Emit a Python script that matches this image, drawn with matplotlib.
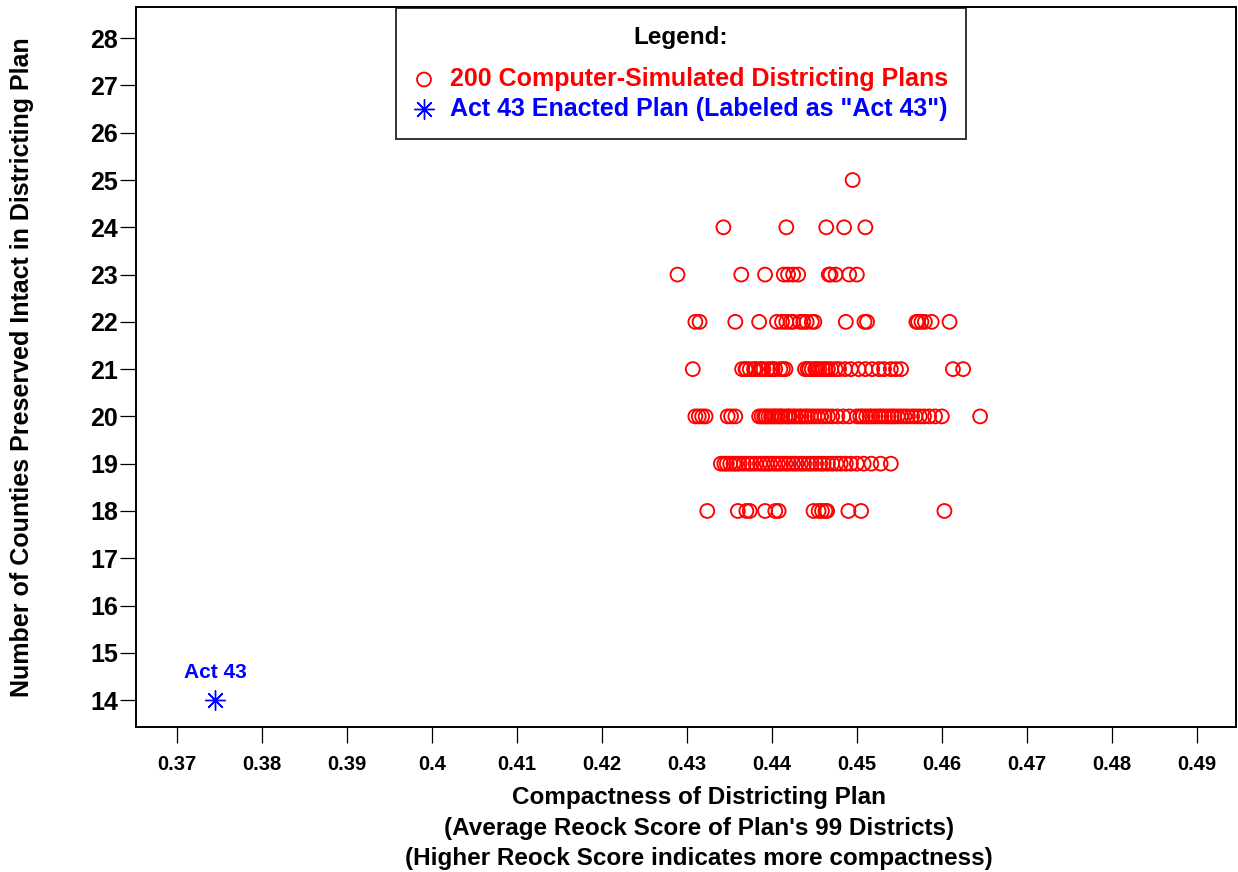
import matplotlib
matplotlib.use("Agg")
import matplotlib.pyplot as plt
import numpy as np

plt.rcParams["font.family"] = ["Liberation Sans", "DejaVu Sans"]
plt.rcParams["font.weight"] = "bold"

# Average Reock score of each simulated plan, grouped by number of counties kept intact
reock_18 = [0.4324, 0.4360, 0.4370, 0.4374, 0.4392, 0.4404, 0.4408, 0.4449,
            0.4455, 0.4459, 0.4463, 0.4465, 0.4490, 0.4505, 0.4603]
reock_19 = [0.4340, 0.4344, 0.4347, 0.4351, 0.4355, 0.4358, 0.4362, 0.4367,
            0.4372, 0.4376, 0.4381, 0.4386, 0.4390, 0.4394, 0.4398, 0.4403,
            0.4407, 0.4411, 0.4416, 0.4420, 0.4425, 0.4429, 0.4434, 0.4438,
            0.4443, 0.4447, 0.4452, 0.4457, 0.4461, 0.4466, 0.4471, 0.4476,
            0.4481, 0.4487, 0.4493, 0.4500, 0.4508, 0.4517, 0.4528, 0.4540]
reock_20 = [0.4310, 0.4314, 0.4318, 0.4322, 0.4348, 0.4352, 0.4357,
            0.4385, 0.4388, 0.4391, 0.4393, 0.4396, 0.4399, 0.4402, 0.4404,
            0.4407, 0.4410, 0.4412, 0.4416, 0.4419, 0.4421, 0.4425, 0.4428,
            0.4432, 0.4435, 0.4439, 0.4442, 0.4446, 0.4450, 0.4454, 0.4458,
            0.4462, 0.4466, 0.4471, 0.4477, 0.4484, 0.4491,
            0.4500, 0.4504, 0.4507, 0.4511, 0.4515, 0.4518, 0.4522, 0.4526,
            0.4529, 0.4533, 0.4537, 0.4541, 0.4544, 0.4548, 0.4552, 0.4556,
            0.4560, 0.4565, 0.4569, 0.4574, 0.4579, 0.4585, 0.4592, 0.4600,
            0.4645]
reock_21 = [0.4307,
            0.4365, 0.4369, 0.4370, 0.4374, 0.4379, 0.4381, 0.4386, 0.4388,
            0.4390, 0.4395, 0.4399, 0.4401, 0.4404, 0.4410, 0.4413, 0.4416,
            0.4439, 0.4442, 0.4444, 0.4447, 0.4451, 0.4453, 0.4456, 0.4460,
            0.4463, 0.4466, 0.4470, 0.4475, 0.4479, 0.4486, 0.4493, 0.4502,
            0.4510, 0.4518, 0.4526, 0.4532, 0.4540, 0.4546, 0.4552,
            0.4613, 0.4625]
reock_22 = [0.4310, 0.4315, 0.4357, 0.4385, 0.4406, 0.4412, 0.4417, 0.4422,
            0.4425, 0.4433, 0.4437, 0.4441, 0.4447, 0.4450, 0.4487, 0.4509,
            0.4512, 0.4570, 0.4572, 0.4576, 0.4580, 0.4588, 0.4609]
reock_23 = [0.4289, 0.4364, 0.4392, 0.4414, 0.4419, 0.4425, 0.4431, 0.4467,
            0.4469, 0.4475, 0.4491, 0.4500]
reock_24 = [0.4343, 0.4417, 0.4464, 0.4485, 0.4510]
reock_25 = [0.4495]

county_groups = [18, 19, 20, 21, 22, 23, 24, 25]
reock_groups = [reock_18, reock_19, reock_20, reock_21, reock_22,
                reock_23, reock_24, reock_25]

act43_reock = 0.3745
act43_counties = 14

xticks = [0.37, 0.38, 0.39, 0.40, 0.41, 0.42, 0.43, 0.44, 0.45, 0.46, 0.47, 0.48, 0.49]
xtick_labels = ["0.37", "0.38", "0.39", "0.4", "0.41", "0.42", "0.43",
                "0.44", "0.45", "0.46", "0.47", "0.48", "0.49"]
yticks = list(range(14, 29))

sim_x = np.concatenate([np.array(g) for g in reock_groups])
sim_y = np.concatenate([np.full(len(g), c) for g, c in zip(reock_groups, county_groups)])

fig = plt.figure(figsize=(12.38, 8.72), dpi=100)
ax = fig.add_axes([136 / 1238, 1 - 727 / 872, 1100 / 1238, 720 / 872])

ax.scatter(sim_x, sim_y, s=100, facecolors="none", edgecolors="#ff0000",
           linewidths=1.35, label="200 Computer-Simulated Districting Plans",
           zorder=3)
ax.scatter([act43_reock], [act43_counties], s=200, marker=(8, 2, 0),
           color="#0000ff", linewidths=1.0,
           label='Act 43 Enacted Plan (Labeled as "Act 43")', zorder=3)
ax.text(act43_reock, act43_counties + 0.58, "Act 43", color="#0000ff",
        fontsize=15, fontweight="bold", ha="center", va="center")

ax.set_xlim(0.3652, 0.4946)
ax.set_ylim(13.43, 28.66)
ax.set_xticks(xticks)
ax.set_xticklabels(xtick_labels)
ax.set_yticks(yticks)

ax.tick_params(axis="x", length=11.5, width=0.9, pad=8.5, labelsize=14.5)
ax.tick_params(axis="y", length=11.5, width=0.9, pad=1.5, labelsize=18)
for sp in ax.spines.values():
    sp.set_linewidth(1.4)

ax.set_xlabel("Compactness of Districting Plan\n"
              "(Average Reock Score of Plan's 99 Districts)\n"
              "(Higher Reock Score indicates more compactness)",
              fontsize=17.5, fontweight="bold", linespacing=1.42)
ax.xaxis.set_label_coords(0.512, -0.082)
ax.set_ylabel("Number of Counties Preserved Intact in Districting Plan",
              fontsize=18, fontweight="bold")
ax.yaxis.set_label_coords(-0.093, 0.5)

leg = ax.legend(loc="upper left", bbox_to_anchor=(396 / 1238, 1 - 8 / 872),
                bbox_transform=fig.transFigure, title="Legend:",
                fontsize=18, title_fontproperties={"weight": "bold", "size": 17.5},
                labelcolor=["#ff0000", "#0000ff"], frameon=True, fancybox=False,
                edgecolor="black", borderpad=0.72, handlelength=0.8,
                handletextpad=0.64, labelspacing=0.24, borderaxespad=0)
# wider gap between "Legend:" and the entries, as in the original
leg._legend_box.sep = 13
leg.get_frame().set_linewidth(1.4)

fig.savefig("out.png", dpi=100)
